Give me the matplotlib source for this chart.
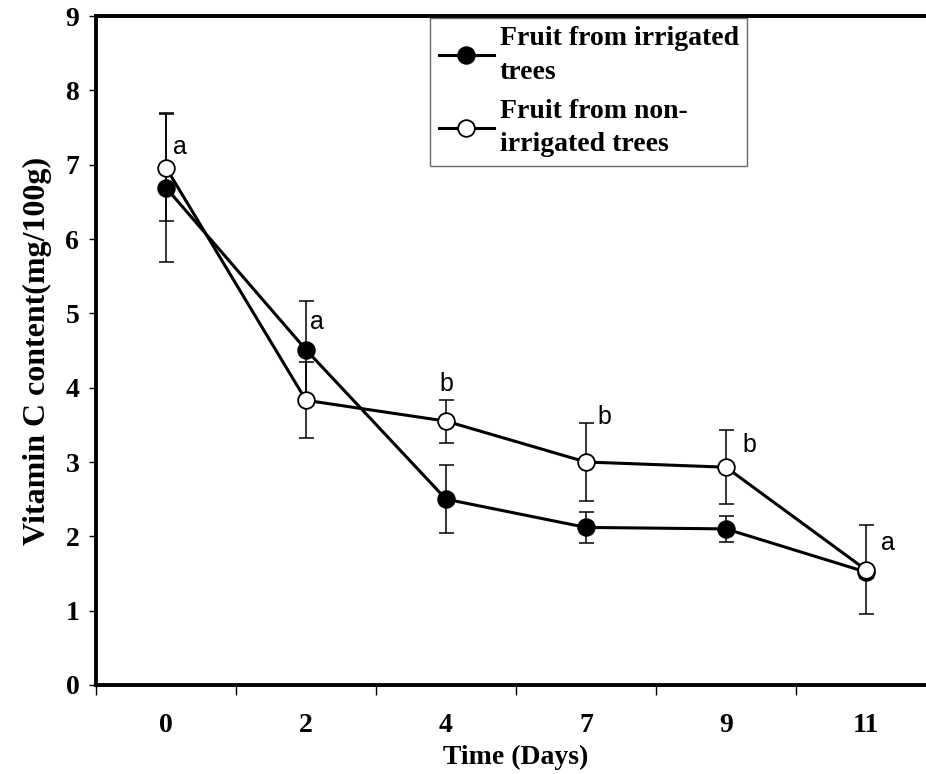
import numpy as np
import matplotlib.pyplot as plt
from matplotlib.ticker import FixedLocator, NullFormatter

# sampling days (categorical axis, evenly spaced)
days = ["0", "2", "4", "7", "9", "11"]

# vitamin C content (mg/100g) with standard errors
irrigated = [6.69, 4.51, 2.50, 2.12, 2.10, 1.52]
irrigated_err = [1.00, 0.65, 0.46, 0.21, 0.18, 0.08]
non_irrigated = [6.96, 3.83, 3.55, 3.00, 2.93, 1.55]
non_irrigated_err = [0.72, 0.51, 0.29, 0.52, 0.50, 0.60]

# significance letters placed next to the non-irrigated series
sig_letters = ["a", "a", "b", "b", "b", "a"]
sig_y = [7.24, 4.88, 4.05, 3.61, 3.23, 1.91]
sig_dx = [0.05, 0.03, 0.0, 0.08, 0.12, 0.11]

serif = "Liberation Serif"
x = np.arange(len(days))

fig = plt.figure(figsize=(9.26, 7.74), dpi=100)
ax = fig.add_axes([0.1037, 0.115, 0.907, 0.8643])

ax.errorbar(x, irrigated, yerr=irrigated_err, fmt="none", ecolor="black",
            elinewidth=1.1, capsize=5.4, capthick=1.1, zorder=2)
ax.errorbar(x, non_irrigated, yerr=non_irrigated_err, fmt="none", ecolor="black",
            elinewidth=1.1, capsize=5.4, capthick=1.1, zorder=2)

ax.plot(x, irrigated, color="black", lw=2.2, marker="o", ms=12,
        mfc="black", mec="black", mew=1.3, zorder=3,
        label="Fruit from irrigated\ntrees")
ax.plot(x, non_irrigated, color="black", lw=2.2, marker="o", ms=12,
        mfc="white", mec="black", mew=1.3, zorder=4,
        label="Fruit from non-\nirrigated trees")

for xi, dx, yi, s in zip(x, sig_dx, sig_y, sig_letters):
    ax.text(xi + dx, yi, s, fontsize=18, family="Liberation Sans",
            ha="left" if dx else "center", va="center")

ax.set_xlim(-0.5, len(days) - 0.5)
ax.set_ylim(0, 9)

# category boundaries get the tick marks, centres get the labels
ax.xaxis.set_major_locator(FixedLocator(np.arange(-0.5, len(days), 1.0)))
ax.xaxis.set_major_formatter(NullFormatter())
ax.set_xticks(x, days, minor=True)
ax.tick_params(axis="x", which="major", direction="out", length=7, width=1)
ax.tick_params(axis="x", which="minor", length=0, pad=20)
ax.set_yticks(range(10))
ax.tick_params(axis="y", direction="out", length=5, width=1, pad=7)

for lbl in ax.get_xticklabels(minor=True) + ax.get_yticklabels():
    lbl.set_fontfamily(serif)
    lbl.set_fontweight("bold")
    lbl.set_fontsize(20)

ax.set_xlabel("Time (Days)", family=serif, fontweight="bold", fontsize=20)
ax.xaxis.set_label_coords(0.5, -0.090)
ax.set_ylabel("Vitamin C content(mg/100g)", family=serif, fontweight="bold",
              fontsize=23, labelpad=10)

for side in ("left", "bottom", "top"):
    ax.spines[side].set_linewidth(2.8)
ax.spines["right"].set_visible(False)

leg = ax.legend(loc="upper left", bbox_to_anchor=(0.398, 0.997),
                prop={"family": serif, "weight": "bold", "size": 20},
                frameon=True, fancybox=False, edgecolor="#444444",
                handlelength=2.0, handletextpad=0.2, borderpad=0.3,
                labelspacing=0.5, borderaxespad=0)
leg.get_frame().set_linewidth(1.0)
for t in leg.get_texts():
    t.set_linespacing(1.45)

fig.savefig("out.png", dpi=100)
